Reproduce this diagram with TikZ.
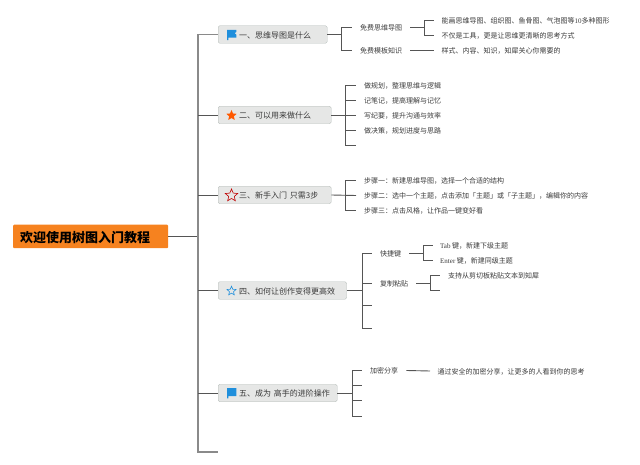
\documentclass[tikz,border=0pt]{standalone}
\usepackage{fontspec}
\setmainfont{Noto Sans CJK SC}
\newfontfamily\latfont{Liberation Serif}
\usetikzlibrary{shapes.geometric}
\definecolor{rootfill}{HTML}{F6821F}
\definecolor{boxfill}{HTML}{E6E7E6}
\definecolor{boxline}{HTML}{B4BCB8}
\definecolor{flagblue}{HTML}{1F8FDC}
\definecolor{treeline}{HTML}{8A8A8A}
\definecolor{twigline}{HTML}{555555}
\definecolor{leaftext}{HTML}{3A3A3A}
\begin{document}
\begin{tikzpicture}[x=1pt,y=-1pt,
    root/.style={anchor=west,fill=rootfill,rounded corners=1pt,minimum height=23.5pt,text width=155pt,text height=11.7pt,text depth=0pt,inner xsep=0pt,align=left,font=\fontsize{13}{15}\selectfont\bfseries},
    topic/.style={anchor=west,draw=boxline,fill=boxfill,rounded corners=1.5pt,minimum height=17.5pt,text width=#1,text height=7.2pt,text depth=0pt,inner xsep=0pt,inner ysep=0pt,align=left,text=leaftext,font=\fontsize{8}{10}\selectfont},
    leaf/.style={anchor=west,inner xsep=8pt,inner ysep=0pt,text height=6.3pt,text depth=0pt,text=leaftext,font=\fontsize{7}{9}\selectfont},
    trunk/.style={draw=treeline,line width=1.3pt},
    twig/.style={draw=twigline,line width=0.9pt},
    icon/.style={star,star points=5,star point ratio=2.2,inner sep=0pt,minimum size=#1}]
    \useasboundingbox (0,0) rectangle (640,465);
    % root and topics
    \node [root] (root) at (13,236.5) {\hspace*{7pt}欢迎使用树图入门教程};
    \node [topic=109pt] (b1) at (218,34.5) {\hspace*{21pt}一、思维导图是什么};
    \node [topic=113pt] (b2) at (218,115) {\hspace*{21pt}二、可以用来做什么};
    \node [topic=113pt] (b3) at (218,195) {\hspace*{21pt}三、新手入门 只需3步};
    \node [topic=128.5pt] (b4) at (218,290.5) {\hspace*{21pt}四、如何让创作变得更高效};
    \node [topic=119pt] (b5) at (218,393) {\hspace*{21pt}五、成为 高手的进阶操作};
    % icons
    \fill [flagblue] (227,29.8) -- (236.3,29.8) -- (236.3,32) -- (234.6,33.2) -- (236.3,34.6) -- (236.3,37.6) -- (228.4,37.6) -- (228.4,40.2) -- (227,40.2) -- cycle;
    \fill [flagblue] (227,388) -- (236.3,388) -- (236.3,396) -- (228.4,396) -- (228.4,398.4) -- (227,398.4) -- cycle;
    \node [icon=11pt,fill=orange!70!red] (star2) at (231.5,115.5) {};
    \node [icon=13pt,draw=red!75!black,line width=0.6pt] (star3) at (231.5,195.5) {};
    \node [icon=9.5pt,draw=flagblue,line width=0.6pt] (star4) at (231.5,291) {};
    % trunk
    \coordinate (t0) at (198,236.5);
    \coordinate (ttop) at (198,34.5);
    \coordinate (tbot) at (198,452);
    \coordinate (tend) at (218,452);
    \path [twig] (root.east) -- (t0);
    \path [trunk] (b1.west) -- (ttop) -- (tbot) -- (tend);
    \path [twig] (t0 |- b2.west) -- (b2.west);
    \path [twig] (t0 |- b3.west) -- (b3.west);
    \path [twig] (t0 |- b4.west) -- (b4.west);
    \path [twig] (t0 |- b5.west) -- (b5.west);
    % topic one
    \node [leaf] (a1) at (352,27.5) {免费思维导图};
    \node [leaf] (a2) at (352,50) {免费模板知识};
    \node [leaf,inner xsep=7.5pt] (a11) at (434,20) {能画思维导图、组织图、鱼骨图、气泡图等{\latfont 10}多种图形};
    \node [leaf,inner xsep=7.5pt] (a12) at (434,35) {不仅是工具，更是让思维更清晰的思考方式};
    \node [leaf,inner xsep=7.5pt] (a21) at (434,50) {样式、内容、知识，知犀关心你需要的};
    \coordinate (j1) at (341.5,34.5);
    \coordinate (j11) at (424,27.5);
    \path [twig] (b1.east) -- (j1);
    \path [twig] (j1) |- (a1.west);
    \path [twig] (j1) |- (a2.west);
    \path [twig] (a1.east) -- (j11);
    \path [twig] (j11) |- (a11.west);
    \path [twig] (j11) |- (a12.west);
    \path [twig] (a2.east) -- (a21.west);
    % topic two
    \node [leaf] (c1) at (356,85) {做规划，整理思维与逻辑};
    \node [leaf] (c2) at (356,100) {记笔记，提高理解与记忆};
    \node [leaf] (c3) at (356,115) {写纪要，提升沟通与效率};
    \node [leaf] (c4) at (356,130) {做决策，规划进度与思路};
    \coordinate (c5) at (356,145);
    \coordinate (j2) at (345.5,115);
    \path [twig] (b2.east) -- (c3.west);
    \path [twig] (j2) |- (c1.west);
    \path [twig] (j2) |- (c2.west);
    \path [twig] (j2) |- (c4.west);
    \path [twig] (j2) |- (c5);
    % topic three
    \node [leaf] (d1) at (356,180.5) {步骤一：新建思维导图，选择一个合适的结构};
    \node [leaf] (d2) at (356,195.5) {步骤二：选中一个主题，点击添加「主题」或「子主题」，编辑你的内容};
    \node [leaf] (d3) at (356,210.5) {步骤三：点击风格，让作品一键变好看};
    \coordinate (j3) at (345.5,195.5);
    \path [twig] (b3.east) -- (d2.west);
    \path [twig] (j3) |- (d1.west);
    \path [twig] (j3) |- (d3.west);
    % topic four
    \node [leaf] (e1) at (372,253) {快捷键};
    \node [leaf] (e2) at (372,283) {复制粘贴};
    \coordinate (e3) at (372,305.5);
    \coordinate (e4) at (372,328);
    \node [leaf,inner xsep=7pt] (e11) at (433,245) {{\latfont Tab} 键，新建下级主题};
    \node [leaf,inner xsep=7pt] (e12) at (433,260.5) {{\latfont Enter} 键，新建同级主题};
    \node [leaf] (e21) at (440,275.5) {支持从剪切板粘贴文本到知犀};
    \coordinate (e22) at (440,290.5);
    \coordinate (j4) at (362,290.5);
    \coordinate (j41) at (423,253);
    \coordinate (j42) at (430,283);
    \path [twig] (b4.east) -- (j4);
    \path [twig] (j4) |- (e1.west);
    \path [twig] (j4) |- (e2.west);
    \path [twig] (j4) |- (e3);
    \path [twig] (j4) |- (e4);
    \path [twig] (e1.east) -- (j41);
    \path [twig] (j41) |- (e11.west);
    \path [twig] (j41) |- (e12.west);
    \path [twig] (e2.east) -- (j42);
    \path [twig] (j42) |- (e21.west);
    \path [twig] (j42) |- (e22);
    % topic five
    \node [leaf] (f1) at (362,370.5) {加密分享};
    \coordinate (f2) at (362,385.5);
    \coordinate (f3) at (362,400.5);
    \coordinate (f4) at (362,416);
    \node [leaf,inner xsep=7.5pt] (f11) at (430,371) {通过安全的加密分享，让更多的人看到你的思考};
    \coordinate (j5) at (352,393);
    \path [twig] (b5.east) -- (j5);
    \path [twig] (j5) |- (f1.west);
    \path [twig] (j5) |- (f2);
    \path [twig] (j5) |- (f3);
    \path [twig] (j5) |- (f4);
    \path [twig] (f1.east) -- (f11.west);
\end{tikzpicture}
\end{document}
